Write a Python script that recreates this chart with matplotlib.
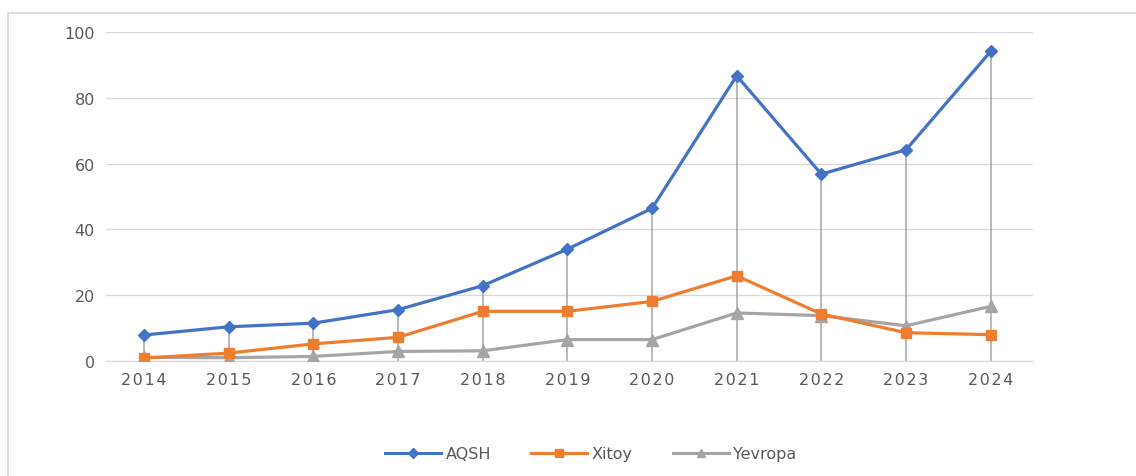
import numpy as np
import matplotlib.pyplot as plt
from matplotlib.lines import Line2D

years = ["2014", "2015", "2016", "2017", "2018", "2019", "2020", "2021", "2022", "2023", "2024"]
aqsh = [7.9, 10.4, 11.5, 15.6, 22.9, 34.0, 46.4, 86.7, 56.8, 64.2, 94.1]
xitoy = [0.9, 2.4, 5.2, 7.2, 15.1, 15.1, 18.1, 25.9, 14.3, 8.6, 8.0]
yevropa = [1.1, 1.0, 1.4, 2.9, 3.1, 6.5, 6.5, 14.6, 13.8, 10.7, 16.6]

BLUE = "#4472C4"
ORANGE = "#ED7D31"
GRAY = "#A5A5A5"
TXT = "#595959"

fig = plt.figure(figsize=(11.36, 4.77), dpi=100)
ax = fig.add_axes([106 / 1136, 1 - 362 / 477, (1033 - 106) / 1136, (362 - 33) / 477])

x = np.arange(len(years))

# drop lines from the top point of each year down to the axis
tops = np.max(np.vstack([aqsh, xitoy, yevropa]), axis=0)
ax.vlines(x, 0, tops, colors=GRAY, linewidth=1.1, zorder=2)

ax.plot(x, aqsh, color=BLUE, linewidth=2.3, marker="D", markersize=6.5, label="AQSH", zorder=5)
ax.plot(x, xitoy, color=ORANGE, linewidth=2.3, marker="s", markersize=7.5, label="Xitoy", zorder=4)
ax.plot(x, yevropa, color=GRAY, linewidth=2.3, marker="^", markersize=8.5, label="Yevropa", zorder=3)

ax.set_xlim(-0.45, 10.5)
ax.set_ylim(0, 100)
ax.set_yticks(range(0, 101, 20))
ax.set_xticks(x)
ax.set_xticklabels(["\u200a".join(y) for y in years])
ax.grid(axis="y", color="#D9D9D9", linewidth=1)
ax.set_axisbelow(True)
for s in ["top", "right", "left"]:
    ax.spines[s].set_visible(False)
ax.spines["bottom"].set_color("#D9D9D9")
ax.tick_params(axis="both", length=0, colors=TXT, labelsize=11.5)
ax.tick_params(axis="x", pad=8)
ax.tick_params(axis="y", pad=8)

handles = [
    Line2D([], [], color=BLUE, linewidth=2.2, marker="D", markersize=5),
    Line2D([], [], color=ORANGE, linewidth=2.2, marker="s", markersize=6),
    Line2D([], [], color=GRAY, linewidth=2.2, marker="^", markersize=6),
]
fig.legend(handles, ["AQSH", "Xitoy", "Yevropa"], loc="center", bbox_to_anchor=(0.52, 1 - 455 / 477),
           ncol=3, frameon=False, fontsize=11.5, labelcolor=TXT, handlelength=3.5,
           handletextpad=0.3, columnspacing=2.5)

# outer chart border
fig.add_artist(Line2D([8 / 1136, 8 / 1136], [0, 1 - 14 / 477], color="#D9D9D9", linewidth=1.2,
                      transform=fig.transFigure))
fig.add_artist(Line2D([8 / 1136, 1], [1 - 14 / 477, 1 - 14 / 477], color="#D9D9D9", linewidth=1.2,
                      transform=fig.transFigure))

fig.savefig("out.png", dpi=100)
